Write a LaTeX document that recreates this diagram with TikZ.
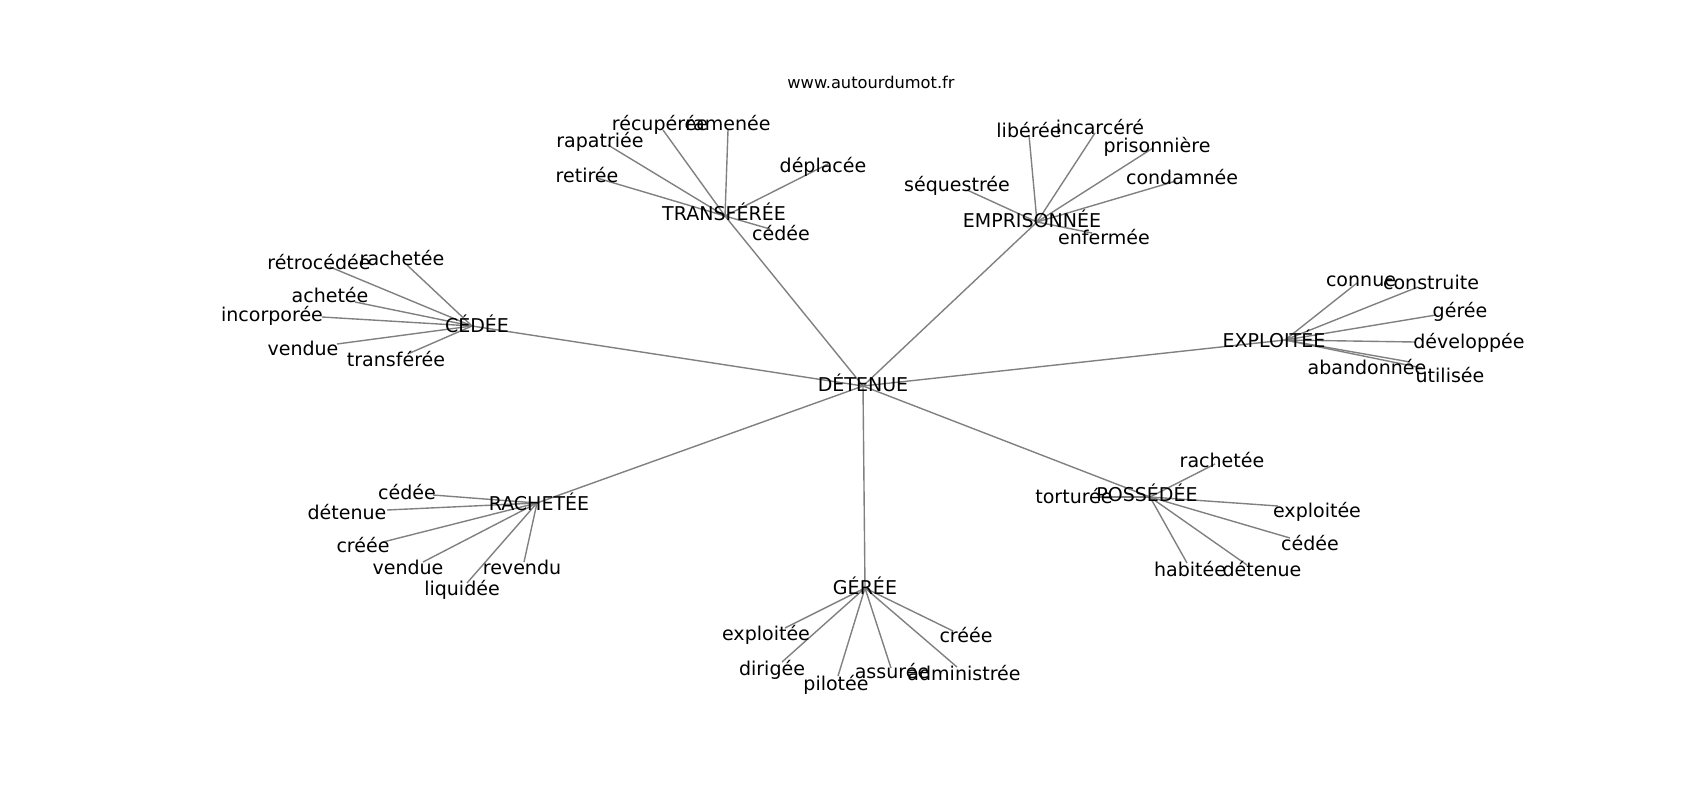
\documentclass[tikz,border=0pt]{standalone}
\usepackage{fontspec}
\setmainfont{DejaVu Sans}
\begin{document}
\begin{tikzpicture}[x=0.72pt,y=-0.72pt,
  edge/.style={draw=gray, line width=1pt},
  lbl/.style={font=\fontsize{13.7}{16}\selectfont, inner sep=0pt, text height=13.56pt, text depth=3.43pt, anchor=center},
  ttl/.style={font=\fontsize{11.7}{14}\selectfont, inner sep=0pt, text height=11.6pt, text depth=2.9pt, anchor=center}]
\useasboundingbox (0,0) rectangle (1700,800);
\fill[white] (0,0) rectangle (1700,800);
% vertices
\coordinate (det) at (863,386);
\coordinate (tra) at (725,216);
\coordinate (emp) at (1037,222);
\coordinate (ced) at (472,326);
\coordinate (exp) at (1285,340);
\coordinate (rac) at (537,503);
\coordinate (pos) at (1150,497);
\coordinate (ger) at (865,588);
\coordinate (t1) at (597,178);
\coordinate (t2) at (608,145);
\coordinate (t3) at (663,130);
\coordinate (t4) at (728,130);
\coordinate (t5) at (828,164);
\coordinate (t6) at (770,229);
\coordinate (e1) at (1029,135);
\coordinate (e2) at (1095,133);
\coordinate (e3) at (1153,148);
\coordinate (e4) at (1176,181);
\coordinate (e5) at (967,190);
\coordinate (e6) at (1092,233);
\coordinate (c1) at (407,265);
\coordinate (c2) at (330,267);
\coordinate (c3) at (355,302);
\coordinate (c4) at (322,317);
\coordinate (c5) at (337,344);
\coordinate (c6) at (410,353);
\coordinate (x1) at (1357,283);
\coordinate (x2) at (1418,287);
\coordinate (x3) at (1436,315);
\coordinate (x4) at (1415,342);
\coordinate (x5) at (1410,362);
\coordinate (x6) at (1422,368);
\coordinate (r1) at (433,495);
\coordinate (r2) at (387,510);
\coordinate (r3) at (383,542);
\coordinate (r4) at (423,562);
\coordinate (r5) at (467,583);
\coordinate (r6) at (524,562);
\coordinate (p1) at (1215,464);
\coordinate (p2) at (1100,497);
\coordinate (p3) at (1278,506);
\coordinate (p4) at (1290,538);
\coordinate (p5) at (1187,563);
\coordinate (p6) at (1247,565);
\coordinate (g1) at (785,628);
\coordinate (g2) at (782,662);
\coordinate (g3) at (838,676);
\coordinate (g4) at (891,668);
\coordinate (g5) at (957,667);
\coordinate (g6) at (953,631);
% edges
\foreach \h in {tra,emp,ced,exp,rac,pos,ger} \draw[edge] (det) -- (\h);
\foreach \i in {1,...,6} {
  \draw[edge] (tra) -- (t\i);
  \draw[edge] (emp) -- (e\i);
  \draw[edge] (ced) -- (c\i);
  \draw[edge] (exp) -- (x\i);
  \draw[edge] (rac) -- (r\i);
  \draw[edge] (pos) -- (p\i);
  \draw[edge] (ger) -- (g\i);
}
% labels
\node[ttl] (title) at (871,82) {www.autourdumot.fr};
\node[lbl] (detT) at (863,384) {DÉTENUE};
\node[lbl] (traT) at (724,213) {TRANSFÉRÉE};
\node[lbl] (empT) at (1032,220) {EMPRISONNÉE};
\node[lbl] (cedT) at (477,325) {CÉDÉE};
\node[lbl] (expT) at (1274,340) {EXPLOITÉE};
\node[lbl] (racT) at (539,503) {RACHETÉE};
\node[lbl] (posT) at (1147,494) {POSSÉDÉE};
\node[lbl] (gerT) at (865,587) {GÉRÉE};
\node[lbl] (t1T) at (587,175) {retirée};
\node[lbl] (t2T) at (600,140) {rapatriée};
\node[lbl] (t3T) at (660,123) {récupérée};
\node[lbl] (t4T) at (728,123) {ramenée};
\node[lbl] (t5T) at (823,165) {déplacée};
\node[lbl] (t6T) at (781,233) {cédée};
\node[lbl] (e1T) at (1029,130) {libérée};
\node[lbl] (e2T) at (1100,127) {incarcéré};
\node[lbl] (e3T) at (1157,145) {prisonnière};
\node[lbl] (e4T) at (1182,177) {condamnée};
\node[lbl] (e5T) at (957,184) {séquestrée};
\node[lbl] (e6T) at (1104,237) {enfermée};
\node[lbl] (c1T) at (402,258) {rachetée};
\node[lbl] (c2T) at (319,262) {rétrocédée};
\node[lbl] (c3T) at (330,295) {achetée};
\node[lbl] (c4T) at (272,314) {incorporée};
\node[lbl] (c5T) at (303,348) {vendue};
\node[lbl] (c6T) at (396,359) {transférée};
\node[lbl] (x1T) at (1361,279) {connue};
\node[lbl] (x2T) at (1431,282) {construite};
\node[lbl] (x3T) at (1460,310) {gérée};
\node[lbl] (x4T) at (1469,341) {développée};
\node[lbl] (x5T) at (1367,367) {abandonnée};
\node[lbl] (x6T) at (1450,375) {utilisée};
\node[lbl] (r1T) at (407,492) {cédée};
\node[lbl] (r2T) at (347,512) {détenue};
\node[lbl] (r3T) at (363,545) {créée};
\node[lbl] (r4T) at (408,567) {vendue};
\node[lbl] (r5T) at (462,588) {liquidée};
\node[lbl] (r6T) at (522,567) {revendu};
\node[lbl] (p1T) at (1222,460) {rachetée};
\node[lbl] (p2T) at (1074,496) {torturée};
\node[lbl] (p3T) at (1317,510) {exploitée};
\node[lbl] (p4T) at (1310,543) {cédée};
\node[lbl] (p5T) at (1190,569) {habitée};
\node[lbl] (p6T) at (1262,569) {détenue};
\node[lbl] (g1T) at (766,633) {exploitée};
\node[lbl] (g2T) at (772,668) {dirigée};
\node[lbl] (g3T) at (836,683) {pilotée};
\node[lbl] (g4T) at (892,671) {assurée};
\node[lbl] (g5T) at (964,673) {administrée};
\node[lbl] (g6T) at (966,635) {créée};
\end{tikzpicture}
\end{document}
